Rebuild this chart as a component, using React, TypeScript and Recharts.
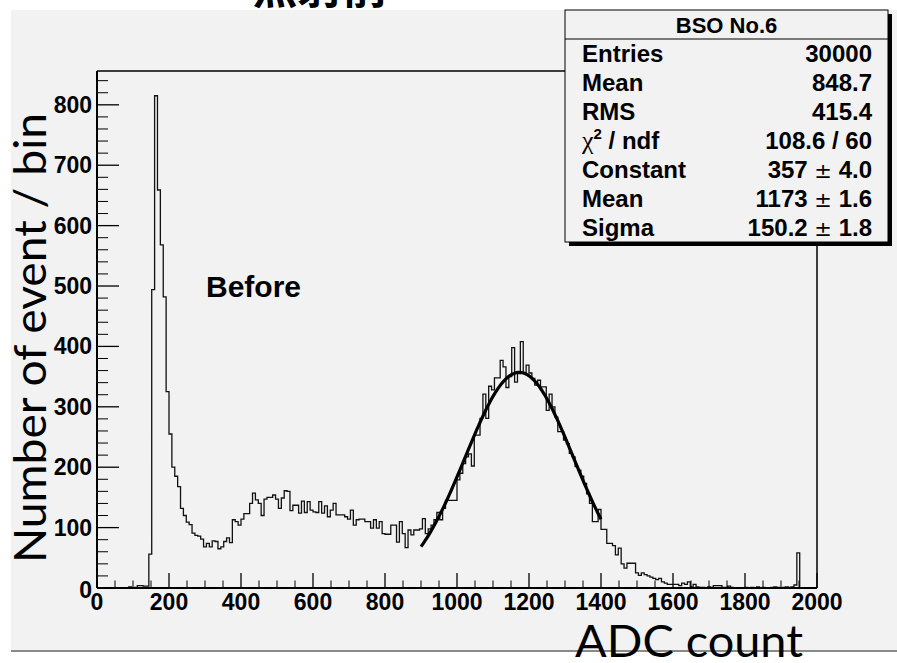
import React from 'react';
import { ComposedChart, Line, XAxis, YAxis } from 'recharts';

// ADC spectrum, 250 bins of width 8 over 0..2000
const BIN_WIDTH = 8;
const binCounts: number[] = [
  0, 0, 0, 0, 0, 0, 0, 0, 0, 0,
  0, 2, 0, 1, 4, 4, 3, 3, 56, 494,
  815, 659, 568, 482, 325, 255, 200, 185, 168, 132,
  120, 109, 105, 91, 87, 86, 81, 68, 74, 68,
  78, 77, 65, 68, 77, 83, 75, 113, 110, 104,
  114, 123, 123, 140, 157, 146, 140, 120, 147, 150,
  150, 154, 147, 132, 149, 161, 160, 128, 137, 137,
  124, 144, 125, 143, 129, 126, 125, 143, 124, 136,
  118, 129, 140, 121, 121, 121, 118, 114, 129, 104,
  113, 114, 114, 110, 110, 99, 113, 99, 110, 90,
  89, 89, 104, 104, 76, 110, 90, 67, 96, 88,
  96, 96, 98, 115, 90, 98, 104, 113, 125, 113,
  132, 145, 145, 145, 145, 179, 190, 206, 217, 222,
  202, 253, 253, 281, 321, 281, 334, 328, 348, 348,
  377, 366, 332, 350, 398, 341, 355, 408, 356, 369,
  356, 347, 336, 344, 333, 333, 294, 321, 300, 283,
  259, 259, 245, 239, 223, 217, 201, 195, 185, 173,
  156, 140, 110, 110, 130, 97, 97, 74, 74, 70,
  55, 66, 40, 33, 41, 41, 41, 25, 21, 25,
  22, 20, 18, 16, 14, 16, 10, 8, 6, 6,
  6, 6, 4, 8, 6, 10, 2, 6, 2, 1,
  1, 0, 2, 1, 4, 4, 4, 1, 1, 3,
  1, 0, 0, 0, 0, 1, 0, 1, 0, 2,
  0, 1, 0, 0, 1, 2, 1, 0, 1, 2,
  1, 2, 5, 58, 0, 0, 0, 0, 0, 0,
];

// Gaussian fit result
const fitConstant = 357;
const fitMean = 1173;
const fitSigma = 150.2;
const fitRange = [900, 1400];

const xDomain = [0, 2000];
const yDomain = [0, 856];
const xTickValues: number[] = Array.from({ length: 41 }, (_, i) => i * 50);
const yTickValues: number[] = Array.from({ length: 43 }, (_, i) => i * 20);

const statsTitle = 'BSO No.6';
const statsLabels = ['Entries', 'Mean', 'RMS', 'chi2', 'Constant', 'Mean', 'Sigma'];
const statsValues = ['30000', '848.7', '415.4', '108.6 / 60', '357 ± 4.0', '1173 ± 1.6', '150.2 ± 1.8'];

const histData = [
  ...binCounts.map((c, i) => ({ x: i * BIN_WIDTH, y: c })),
  { x: binCounts.length * BIN_WIDTH, y: binCounts[binCounts.length - 1] },
];

const fitData: { x: number; y: number }[] = [];
for (let v = fitRange[0]; v <= fitRange[1]; v += 5) {
  const z = (v - fitMean) / fitSigma;
  fitData.push({ x: v, y: fitConstant * Math.exp(-0.5 * z * z) });
}

const numFont = '"Liberation Sans", Arial, Helvetica, sans-serif';
const titleFont = 'Lato, "Open Sans", sans-serif';
const tickFontSize = 23;
const statsFontSize = 24;

const XTick = (props: any) => {
  const { x, y, payload } = props;
  const v = payload.value as number;
  const major = v % 200 === 0;
  return (
    <g>
      <line x1={x} x2={x} y1={y} y2={y - (major ? 15 : 7.5)} stroke="#000" strokeWidth={major ? 1.3 : 1} />
      {major && (
        <text x={x} y={y + 22} textAnchor="middle" fontFamily={numFont} fontWeight="bold" fontSize={tickFontSize} fill="#000">
          {v}
        </text>
      )}
    </g>
  );
};

const YTick = (props: any) => {
  const { x, y, payload } = props;
  const v = payload.value as number;
  const major = v % 100 === 0;
  return (
    <g>
      <line x1={x} x2={x + (major ? 22 : 11)} y1={y} y2={y} stroke="#000" strokeWidth={major ? 1.3 : 1} />
      {major && (
        <text x={x - 5} y={y + (v === 0 ? 10 : 8)} textAnchor="end" fontFamily={numFont} fontWeight="bold" fontSize={tickFontSize} fill="#000">
          {v}
        </text>
      )}
    </g>
  );
};

function StatValue({ text, x, y }: { text: string; x: number; y: number }) {
  const parts = text.split(' ± ');
  return (
    <text x={x} y={y} textAnchor="end" fontFamily={numFont} fontWeight="bold" fontSize={statsFontSize} fill="#000">
      {parts.length === 2 ? (
        <>
          <tspan>{parts[0]} </tspan>
          <tspan fontWeight="normal" fontFamily='"DejaVu Sans", sans-serif' fontSize={21}>±</tspan>
          <tspan> {parts[1]}</tspan>
        </>
      ) : (
        text
      )}
    </text>
  );
}

export default function App() {
  const rowY0 = 62;
  const rowStep = 29;
  return (
    <div style={{ position: 'absolute', left: 0, top: 0, width: 897, height: 663, overflow: 'hidden', background: '#fff' }}>
      <div
        style={{
          position: 'absolute',
          left: 11,
          top: 10,
          width: 886,
          height: 640,
          background: '#f2f2f2',
          borderBottom: '2px solid #8a8a8a',
        }}
      />
      <div style={{ position: 'absolute', left: 0, top: 0 }}>
        <ComposedChart width={897} height={663} margin={{ top: 70, right: 79, bottom: 74, left: 96 }}>
          <XAxis
            dataKey="x"
            type="number"
            domain={xDomain}
            ticks={xTickValues}
            interval={0}
            tick={XTick}
            tickLine={false}
            tickSize={0}
            tickMargin={0}
            height={1}
            axisLine={{ stroke: '#000', strokeWidth: 2 }}
            allowDataOverflow
          />
          <XAxis
            xAxisId="top"
            orientation="top"
            type="number"
            domain={xDomain}
            tick={false}
            tickLine={false}
            height={1}
            axisLine={{ stroke: '#000', strokeWidth: 1.5 }}
          />
          <YAxis
            type="number"
            domain={yDomain}
            ticks={yTickValues}
            interval={0}
            tick={YTick}
            tickLine={false}
            tickSize={0}
            tickMargin={0}
            width={1}
            axisLine={{ stroke: '#000', strokeWidth: 2 }}
            allowDataOverflow
          />
          <YAxis
            yAxisId="right"
            orientation="right"
            type="number"
            domain={yDomain}
            tick={false}
            tickLine={false}
            width={1}
            axisLine={{ stroke: '#000', strokeWidth: 1.5 }}
          />
          <Line
            data={histData}
            dataKey="y"
            type="stepAfter"
            stroke="#111"
            strokeWidth={1.3}
            dot={false}
            activeDot={false}
            isAnimationActive={false}
          />
          <Line
            data={fitData}
            dataKey="y"
            type="linear"
            stroke="#000"
            strokeWidth={3.2}
            dot={false}
            activeDot={false}
            isAnimationActive={false}
          />
        </ComposedChart>
      </div>
      <svg width={897} height={663} style={{ position: 'absolute', left: 0, top: 0, pointerEvents: 'none' }}>
        <text x={320} y={4} textAnchor="middle" fontFamily='"Noto Sans CJK JP", sans-serif' fontWeight="bold" fontSize={45} fill="#000">
          照射前
        </text>

        {/* statistics box */}
        <rect x={569} y={14} width={323} height={232} fill="#000" />
        <rect x={565} y={10} width={323} height={232} fill="#f2f2f2" stroke="#000" strokeWidth={1} />
        <line x1={565} x2={888} y1={39} y2={39} stroke="#000" strokeWidth={1} />
        <text x={726.5} y={33} textAnchor="middle" fontFamily={numFont} fontWeight="bold" fontSize={22} fill="#000">
          {statsTitle}
        </text>
        {statsLabels.map((label, i) => (
          <text key={`l${i}`} x={582} y={rowY0 + i * rowStep} fontFamily={numFont} fontWeight="bold" fontSize={statsFontSize} fill="#000">
            {label === 'chi2' ? (
              <>
                <tspan fontFamily='"Liberation Serif", serif' fontWeight="normal" fontSize={26}>χ</tspan>
                <tspan dy={-10} fontSize={15}>2</tspan>
                <tspan dy={10}> / ndf</tspan>
              </>
            ) : (
              label
            )}
          </text>
        ))}
        {statsValues.map((val, i) => (
          <StatValue key={`v${i}`} text={val} x={872} y={rowY0 + i * rowStep} />
        ))}

        <text x={206} y={297} fontFamily={numFont} fontWeight="bold" fontSize={30} fill="#000">
          Before
        </text>

        <text
          x={0}
          y={0}
          transform="translate(46 338) rotate(-90)"
          textAnchor="middle"
          fontFamily={titleFont}
          fontSize={44}
          fill="#000"
          textLength={450}
          lengthAdjust="spacingAndGlyphs"
        >
          Number of event / bin
        </text>
        <text
          x={575}
          y={657}
          fontFamily={titleFont}
          fontSize={44}
          fill="#000"
          textLength={228}
          lengthAdjust="spacingAndGlyphs"
        >
          ADC count
        </text>
      </svg>
    </div>
  );
}
